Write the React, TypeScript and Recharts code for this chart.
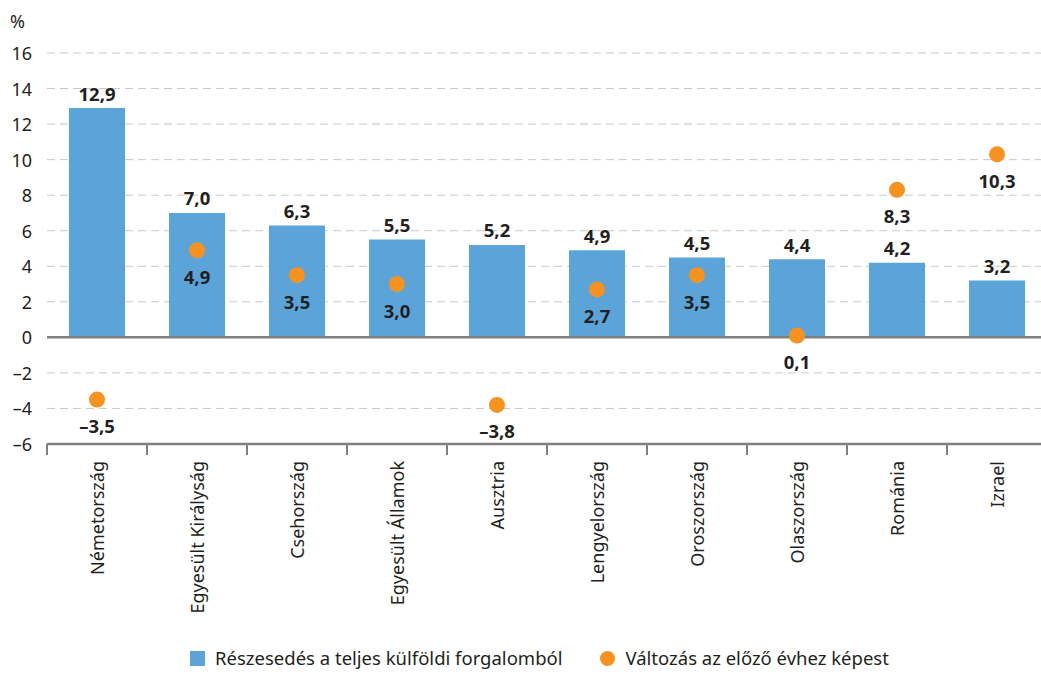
import { ComposedChart, Bar, Scatter, XAxis, YAxis, CartesianGrid, ReferenceLine, LabelList } from "recharts";

const countries = [
  "Németország",
  "Egyesült Királyság",
  "Csehország",
  "Egyesült Államok",
  "Ausztria",
  "Lengyelország",
  "Oroszország",
  "Olaszország",
  "Románia",
  "Izrael",
];
const shares = [12.9, 7.0, 6.3, 5.5, 5.2, 4.9, 4.5, 4.4, 4.2, 3.2];
const changes = [-3.5, 4.9, 3.5, 3.0, -3.8, 2.7, 3.5, 0.1, 8.3, 10.3];
const yTicks = [-6, -4, -2, 0, 2, 4, 6, 8, 10, 12, 14, 16];

const BLUE = "#5BA4D9";
const ORANGE = "#F7921E";
const TEXT = "#231F20";
const FONT = "'Noto Sans', sans-serif";

const data = countries.map((name, i) => ({ name, share: shares[i], change: changes[i] }));

const fmt = (v: number) => {
  const s = Math.abs(v).toFixed(1).replace(".", ",");
  return v < 0 ? "–" + s : s;
};

const XTick = (props: any) => {
  const { x, y, payload, index } = props;
  const band = 100;
  return (
    <g>
      <line x1={x - band / 2} x2={x - band / 2} y1={y - 8} y2={y + 3} stroke="#808080" strokeWidth={2} />
      {index === countries.length - 1 && (
        <line x1={x + band / 2} x2={x + band / 2} y1={y - 8} y2={y + 3} stroke="#808080" strokeWidth={2} />
      )}
      <text
        x={x}
        y={y + 9}
        transform={`rotate(-90, ${x}, ${y + 9})`}
        textAnchor="end"
        dominantBaseline="central"
        fill={TEXT}
        fontSize={18}
        fontFamily={FONT}
      >
        {payload.value}
      </text>
    </g>
  );
};

const YTick = (props: any) => {
  const { x, y, payload } = props;
  return (
    <text x={x} y={y} textAnchor="end" dominantBaseline="central" fill={TEXT} fontSize={18} fontFamily={FONT}>
      {fmt(payload.value).replace(",0", "")}
    </text>
  );
};

const Dot = (props: any) => {
  const { cx, cy } = props;
  return <circle cx={cx} cy={cy} r={8} fill={ORANGE} />;
};

const BarLabel = (props: any) => {
  const { x, y, width, value } = props;
  return (
    <text x={x + width / 2} y={y - 15} textAnchor="middle" dominantBaseline="central" fill={TEXT} fontSize={18.5} fontWeight={700} fontFamily={FONT}>
      {fmt(value)}
    </text>
  );
};

const DotLabel = (props: any) => {
  const { x, y, width, height, value } = props;
  const cx = x + (width || 0) / 2;
  const cy = y + (height || 0) / 2;
  return (
    <text x={cx} y={cy + 26} textAnchor="middle" dominantBaseline="central" fill={TEXT} fontSize={18.5} fontWeight={700} fontFamily={FONT}>
      {fmt(value)}
    </text>
  );
};

export default function App() {
  return (
    <div style={{ position: "absolute", left: 0, top: 0, width: 1041, height: 674, overflow: "hidden", background: "#fff", fontFamily: FONT }}>
      <div style={{ position: "absolute", left: 10, top: 9, fontSize: 18, color: TEXT }}>%</div>
      <ComposedChart
        width={1050}
        height={674}
        data={data}
        margin={{ top: 53, right: 3, bottom: 50, left: 0 }}
        barCategoryGap={44}
      >
        <CartesianGrid vertical={false} stroke="#C8C8C8" strokeDasharray="8 5" />
        <XAxis
          dataKey="name"
          interval={0}
          height={180}
          axisLine={{ stroke: "#808080", strokeWidth: 2.5 }}
          tickLine={false}
          tick={<XTick />}
        />
        <YAxis
          domain={[-6, 16]}
          ticks={yTicks}
          width={47}
          axisLine={false}
          tickLine={false}
          tickSize={0}
          tickMargin={15}
          tick={<YTick />}
          interval={0}
        />
        <ReferenceLine y={0} stroke="#808080" strokeWidth={2.5} />
        <Bar dataKey="share" fill={BLUE} barSize={56} isAnimationActive={false}>
          <LabelList dataKey="share" content={<BarLabel />} />
        </Bar>
        <Scatter dataKey="change" fill={ORANGE} shape={<Dot />} isAnimationActive={false}>
          <LabelList dataKey="change" content={<DotLabel />} />
        </Scatter>
      </ComposedChart>
      <div
        style={{
          position: "absolute",
          left: 38,
          width: 1003,
          top: 646,
          display: "flex",
          justifyContent: "center",
          alignItems: "center",
          fontSize: 18.5,
          lineHeight: "24px",
          color: TEXT,
          whiteSpace: "nowrap",
        }}
      >
        <span style={{ display: "inline-block", width: 15, height: 15, background: BLUE, marginRight: 10 }} />
        <span style={{ marginRight: 38 }}>Részesedés a teljes külföldi forgalomból</span>
        <span style={{ display: "inline-block", width: 15, height: 15, borderRadius: 8, background: ORANGE, marginRight: 10 }} />
        <span>Változás az előző évhez képest</span>
      </div>
    </div>
  );
}
